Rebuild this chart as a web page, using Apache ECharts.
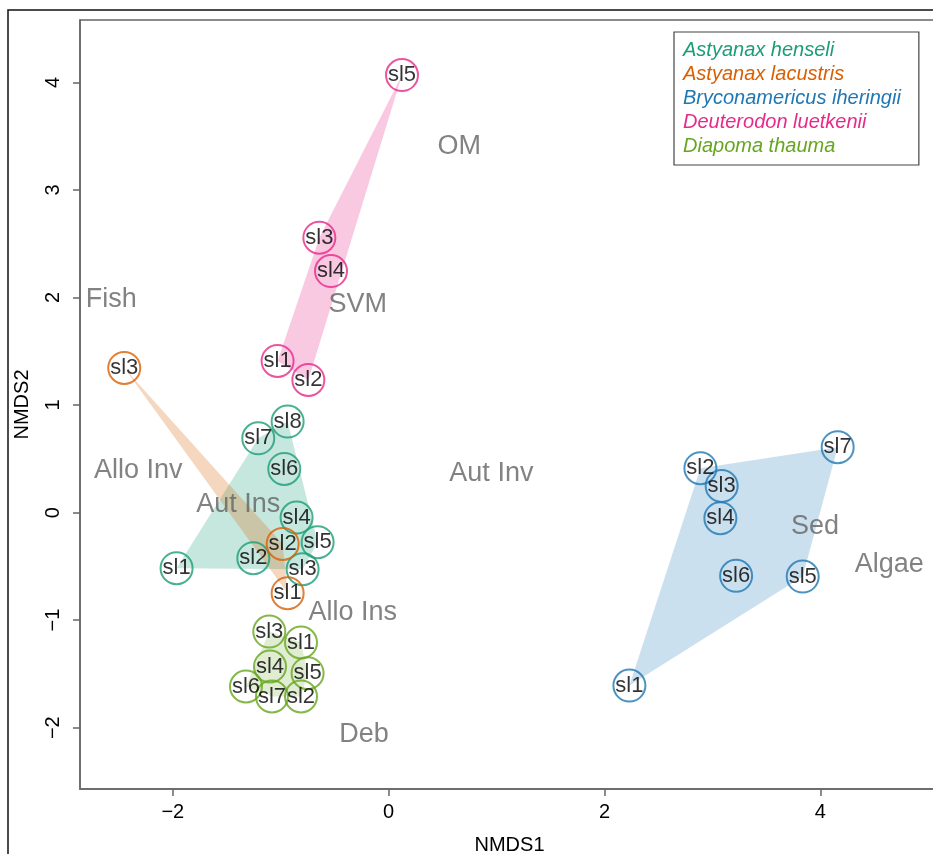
<!DOCTYPE html>
<html>
<head>
<meta charset="utf-8">
<script src="https://cdn.jsdelivr.net/npm/echarts@6/dist/echarts.min.js"></script>
<style>
  html, body { margin: 0; padding: 0; background: #fff; }
  #chart { width: 933px; height: 854px; }
</style>
</head>
<body>
<div id="chart"></div>
<script>
  // NMDS scores per species: [NMDS1, NMDS2, site]
  var henseli = [
    [-1.965, -0.517, 'sl1'], [-1.254, -0.424, 'sl2'], [-0.797, -0.526, 'sl3'],
    [-0.853, -0.046, 'sl4'], [-0.658, -0.275, 'sl5'], [-0.967, 0.406, 'sl6'],
    [-1.208, 0.691, 'sl7'], [-0.936, 0.846, 'sl8']
  ];
  var lacustris = [
    [-0.936, -0.749, 'sl1'], [-0.982, -0.291, 'sl2'], [-2.450, 1.345, 'sl3']
  ];
  var iheringii = [
    [2.231, -1.608, 'sl1'], [2.889, 0.413, 'sl2'], [3.086, 0.248, 'sl3'],
    [3.074, -0.052, 'sl4'], [3.837, -0.595, 'sl5'], [3.220, -0.588, 'sl6'],
    [4.161, 0.608, 'sl7']
  ];
  var luetkenii = [
    [-1.029, 1.410, 'sl1'], [-0.744, 1.233, 'sl2'], [-0.642, 2.556, 'sl3'],
    [-0.534, 2.246, 'sl4'], [0.124, 4.068, 'sl5']
  ];
  var thauma = [
    [-0.812, -1.208, 'sl1'], [-0.812, -1.710, 'sl2'], [-1.106, -1.106, 'sl3'],
    [-1.099, -1.431, 'sl4'], [-0.751, -1.493, 'sl5'], [-1.322, -1.617, 'sl6'],
    [-1.081, -1.710, 'sl7']
  ];
  // food item scores
  var foods = [
    [0.655, 3.399, 'OM'], [-2.570, 1.984, 'Fish'], [-0.287, 1.930, 'SVM'],
    [-2.320, 0.388, 'Allo Inv'], [0.952, 0.366, 'Aut Inv'], [-1.393, 0.072, 'Aut Ins'],
    [-0.333, -0.929, 'Allo Ins'], [-0.228, -2.066, 'Deb'], [3.950, -0.130, 'Sed'],
    [4.640, -0.486, 'Algae']
  ];
  var xTicks = [-2, 0, 2, 4];
  var yTicks = [-2, -1, 0, 1, 2, 3, 4];

  var species = [
    { name: 'Astyanax henseli', data: henseli, color: '#1B9E77', fill: 'rgba(27,158,119,0.25)' },
    { name: 'Astyanax lacustris', data: lacustris, color: '#D95F02', fill: 'rgba(217,95,2,0.25)' },
    { name: 'Bryconamericus iheringii', data: iheringii, color: '#1F78B4', fill: 'rgba(31,120,180,0.23)' },
    { name: 'Deuterodon luetkenii', data: luetkenii, color: '#E7298A', fill: 'rgba(231,41,138,0.25)' },
    { name: 'Diapoma thauma', data: thauma, color: '#66A61E', fill: 'rgba(102,166,30,0.2)' }
  ];

  var FONT = '"Liberation Sans", Arial, sans-serif';

  function cross(o, a, b) {
    return (a[0] - o[0]) * (b[1] - o[1]) - (a[1] - o[1]) * (b[0] - o[0]);
  }
  // monotone chain convex hull
  function hull(pts) {
    var p = pts.map(function (d) { return [d[0], d[1]]; }).sort(function (a, b) {
      return a[0] - b[0] || a[1] - b[1];
    });
    if (p.length < 3) return p;
    var lower = [], upper = [];
    p.forEach(function (q) {
      while (lower.length >= 2 && cross(lower[lower.length - 2], lower[lower.length - 1], q) <= 0) lower.pop();
      lower.push(q);
    });
    for (var i = p.length - 1; i >= 0; i--) {
      var q = p[i];
      while (upper.length >= 2 && cross(upper[upper.length - 2], upper[upper.length - 1], q) <= 0) upper.pop();
      upper.push(q);
    }
    lower.pop(); upper.pop();
    return lower.concat(upper);
  }

  function minus(v) {
    return v < 0 ? '\u2212' + (-v) : String(v);
  }

  var series = [];
  species.forEach(function (s) {
    var h = hull(s.data);
    series.push({
      name: s.name,
      type: 'custom',
      z: 1,
      silent: true,
      data: h,
      renderItem: function (params, api) {
        if (params.dataIndex !== 0) return;
        var pts = h.map(function (p) { return api.coord(p); });
        return { type: 'polygon', shape: { points: pts }, style: { fill: s.fill } };
      }
    });
  });
  species.forEach(function (s) {
    series.push({
      name: s.name,
      type: 'scatter',
      z: 3,
      data: s.data,
      symbol: 'circle',
      symbolSize: 32,
      itemStyle: { color: 'rgba(255,255,255,0)', borderColor: s.color, borderWidth: 2 },
      label: {
        show: true, position: 'inside', color: '#000', fontSize: 22, fontFamily: FONT,
        formatter: function (p) { return p.data[2]; }
      }
    });
  });
  series.push({
    name: 'foods',
    type: 'scatter',
    z: 2,
    silent: true,
    data: foods,
    symbolSize: 0,
    label: {
      show: true, position: 'inside', color: '#636363', fontSize: 27, fontFamily: FONT,
      formatter: function (p) { return p.data[2]; }
    }
  });

  var chart = echarts.init(document.getElementById('chart'));
  chart.setOption({
    backgroundColor: '#fff',
    animation: false,
    textStyle: { fontFamily: FONT },
    graphic: [{
      type: 'rect', z: 0, silent: true,
      shape: { x: 8, y: 10, width: 1000, height: 1000 },
      style: { fill: 'none', stroke: '#111', lineWidth: 1.5 }
    }],
    grid: {
      left: 80, top: 20, width: 859, height: 769,
      outerBoundsMode: 'none', containLabel: false,
      show: true, borderColor: '#666', borderWidth: 1.5
    },
    legend: {
      orient: 'vertical', left: 674, top: 32,
      icon: 'none', itemWidth: 0, itemHeight: 10, itemGap: 1,
      padding: [7, 18, 7, 4],
      borderColor: '#444', borderWidth: 1.2, backgroundColor: '#fff',
      data: species.map(function (s) {
        return { name: s.name, textStyle: { color: s.color } };
      }),
      textStyle: { fontSize: 20, fontStyle: 'italic', fontFamily: FONT, lineHeight: 23 }
    },
    xAxis: {
      type: 'value', min: -2.86, max: 5.1,
      name: 'NMDS1', nameLocation: 'middle', nameGap: 46,
      nameTextStyle: { color: '#000', fontSize: 20, fontFamily: FONT },
      splitLine: { show: false },
      axisLine: { show: true, onZero: false, lineStyle: { color: '#666', width: 1.5 } },
      axisTick: { show: true, inside: false, length: 7, customValues: xTicks, lineStyle: { color: '#666', width: 1.5 } },
      axisLabel: { customValues: xTicks, color: '#000', fontSize: 20, margin: 13, formatter: minus }
    },
    yAxis: {
      type: 'value', min: -2.57, max: 4.58,
      name: 'NMDS2', nameLocation: 'middle', nameGap: 48,
      nameTextStyle: { color: '#000', fontSize: 20, fontFamily: FONT },
      splitLine: { show: false },
      axisLine: { show: true, onZero: false, lineStyle: { color: '#666', width: 1.5 } },
      axisTick: { show: true, inside: false, length: 7, customValues: yTicks, lineStyle: { color: '#666', width: 1.5 } },
      axisLabel: { customValues: yTicks, color: '#000', fontSize: 20, margin: 17, rotate: 90, formatter: minus }
    },
    series: series
  });
</script>
</body>
</html>
